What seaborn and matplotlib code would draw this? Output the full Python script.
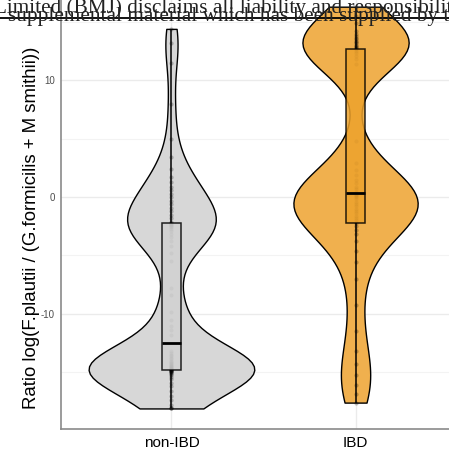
import numpy as np
import pandas as pd
import seaborn as sns
import matplotlib
matplotlib.use("Agg")
import matplotlib.pyplot as plt
from matplotlib.lines import Line2D
from matplotlib.transforms import ScaledTranslation

# ---- data ----
categories = ["non-IBD", "IBD"]
non_ibd = [-18.1, -18.1, -18.1, -17.8, -17.4, -17.0, -16.6, -16.2, -15.9, -15.6,
           -15.4, -15.25, -15.15, -15.05, -15.0, -14.95, -14.9, -14.88, -14.86, -14.84,
           -14.82, -14.78, -14.74, -14.7, -14.65, -14.6, -14.55, -14.5, -14.45, -14.4,
           -14.3, -14.2, -14.1, -14.0, -13.9, -13.8, -13.65, -13.5, -13.35, -13.2,
           -11.8, -11.4, -11.0, -10.5, -9.8, -8.4, -7.8, -5.5, -4.8, -4.2,
           -3.8, -3.45, -3.15, -2.9, -2.7, -2.55, -2.45, -2.35, -2.3, -2.25,
           -2.1, -1.8, -1.5, -1.2, -0.9, -0.6, -0.3, 0.0, 0.3, 0.6,
           0.9, 1.25, 1.7, 2.4, 3.4, 5.0, 8.0, 11.5, 13.2, 14.4]
ibd = [-17.6, -16.9, -16.1, -15.2, -14.3, -13.2, -11.5, -9.2, -7.0, -5.6,
       -4.6, -3.8, -3.2, -2.8, -2.45,
       -2.2, -2.0, -1.8, -1.6, -1.4, -1.2, -1.0, -0.8, -0.6, -0.4,
       -0.2, 0.0, 0.1, 0.2, 0.3,
       0.45, 0.65, 0.9, 1.2, 1.5, 1.85, 2.3, 2.9, 4.8,
       11.4, 11.8, 12.1, 12.35, 12.5, 12.65,
       12.75, 12.85, 12.95, 13.05, 13.15, 13.25, 13.35, 13.5, 13.65, 13.8,
       14.0, 14.25, 14.9, 15.5, 16.3]
y_ticks = [-10, 0, 10]
y_label = "Ratio log(F.plautii / (G.formicilis + M smithii))"
watermark_1 = "Limited (BMJ) disclaims all liability and responsibility arising from any reliance"
watermark_2 = "supplemental material which has been supplied by the author(s)"

violin_colors = {"non-IBD": "#D7D7D7", "IBD": "#F0B04E"}
box_colors = {"non-IBD": "#D2D2D2", "IBD": "#EDA22C"}

df = pd.DataFrame({
    "group": ["non-IBD"] * len(non_ibd) + ["IBD"] * len(ibd),
    "value": non_ibd + ibd,
})

sns.set_style("white")
plt.rcParams["font.family"] = ["Liberation Sans", "DejaVu Sans"]
plt.rcParams["axes.unicode_minus"] = False

fig = plt.figure(figsize=(4.49, 4.51), dpi=100)
ax = fig.add_axes([61 / 449, 22 / 451, 405 / 449, 441 / 451])

sns.violinplot(data=df, x="group", y="value", hue="group", order=categories,
               hue_order=categories, palette=violin_colors, saturation=1,
               cut=0, density_norm="count", common_norm=True, bw_adjust=0.55,
               inner=None, linewidth=1.0, linecolor="black", width=0.9,
               legend=False, ax=ax)
sns.stripplot(data=df, x="group", y="value", order=categories, jitter=False,
              color="black", alpha=0.25, size=3, linewidth=0, ax=ax, zorder=3)
sns.boxplot(data=df, x="group", y="value", hue="group", order=categories,
            hue_order=categories, palette=box_colors, saturation=1, width=0.1,
            showfliers=False, showcaps=False, linecolor="black", linewidth=1.1,
            medianprops={"color": "black", "linewidth": 2.0, "zorder": 5},
            legend=False, ax=ax,
            boxprops={"alpha": 0.85, "zorder": 4},
            whiskerprops={"zorder": 4})

ax.set_xlim(-0.6, 1.6)
ax.set_ylim(-19.86, 17.9)
ax.set_yticks(y_ticks)
ax.set_yticks([-15, -5, 5, 15], minor=True)
ax.set_xticks([0, 1])
ax.set_xticklabels(categories, fontsize=11, color="black")
for lab, dx in zip(ax.get_xticklabels(), [16, 4.5]):
    lab.set_transform(lab.get_transform() + ScaledTranslation(dx / 100, 0, fig.dpi_scale_trans))
ax.tick_params(axis="y", which="major", labelsize=7, labelcolor="#4D4D4D",
               length=3, width=0.8, color="#7F7F7F", pad=1.5)
ax.tick_params(axis="x", which="major", length=3, width=0.8, color="#7F7F7F", pad=2)
ax.tick_params(which="minor", length=0)
ax.set_axisbelow(True)
ax.grid(which="major", color="#EBEBEB", linewidth=1.0)
ax.grid(which="minor", axis="y", color="#F3F3F3", linewidth=0.8)
ax.set_xlabel("")
ax.set_ylabel(y_label, fontsize=13.45, color="black")
ax.yaxis.set_label_coords((40 - 61) / 405, (451 - 227.5 - 22) / 441)
for side in ["top", "right"]:
    ax.spines[side].set_visible(False)
for side in ["left", "bottom"]:
    ax.spines[side].set_color("#8A8A8A")
    ax.spines[side].set_linewidth(1.2)

# watermark overlay
fig.text(-6 / 449, 1 - 13.5 / 451, watermark_1, family="Liberation Serif",
         fontsize=15.3, color="#222222", va="baseline", ha="left", zorder=10)
fig.text(8 / 449, 1 - 21.5 / 451, watermark_2, family="Liberation Serif",
         fontsize=15.3, color="#222222", va="baseline", ha="left", zorder=10)
fig.add_artist(Line2D([0, 1], [1 - 17.5 / 451, 1 - 17.5 / 451], color="black",
                      linewidth=1.3, transform=fig.transFigure, zorder=10))

fig.savefig("out.png", dpi=100)
